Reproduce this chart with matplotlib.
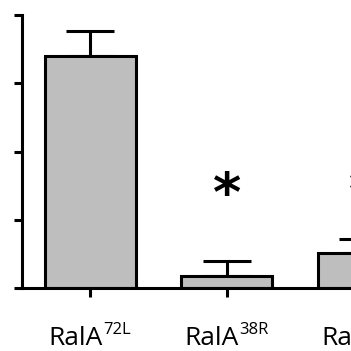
import numpy as np
import matplotlib.pyplot as plt
import matplotlib.transforms as mtransforms

plt.rcParams['font.family'] = 'Open Sans'

names = ['RalA', 'RalA', 'RalA']
mutants = ['72L', '38R', '48W']
values = [3.40, 0.18, 0.51]
errors = [0.37, 0.22, 0.21]
stars = ['', '*', '*']
star_y = [0, 1.35, 1.37]

x = np.arange(len(values))

fig = plt.figure(figsize=(3.51, 3.51), dpi=100)
ax = fig.add_axes([22 / 351, 63 / 351, 409.5 / 351, 273 / 351])

ax.bar(x, values, width=0.667, color='#bebebe', edgecolor='black', linewidth=2.2, zorder=2)
ax.errorbar(x, values, yerr=[np.zeros(len(errors)), errors], fmt='none',
            ecolor='black', elinewidth=2.2, capsize=17, capthick=2.2, zorder=1)

for xi, sy, s in zip(x, star_y, stars):
    if s:
        ax.text(xi, sy, s, ha='center', va='center', fontsize=39,
                fontweight='bold', family='DejaVu Sans')

# category labels with small superscripts
trans = ax.get_xaxis_transform()
main_tr = mtransforms.offset_copy(trans, fig=fig, x=12, y=-57, units='dots')
sup_tr = mtransforms.offset_copy(trans, fig=fig, x=13, y=-46, units='dots')
for xi, n, m in zip(x, names, mutants):
    ax.text(xi, 0, n, transform=main_tr, ha='right', va='baseline', fontsize=19)
    ax.text(xi, 0, m, transform=sup_tr, ha='left', va='baseline', fontsize=12)

ax.set_xlim(-0.5, 2.5)
ax.set_ylim(0, 4)
ax.set_yticks([0, 1, 2, 3, 4])
ax.set_yticklabels([])
ax.set_xticks(x)
ax.set_xticklabels([])

for side in ['top', 'right']:
    ax.spines[side].set_visible(False)
for side in ['left', 'bottom']:
    ax.spines[side].set_linewidth(2.2)

ax.tick_params(axis='y', length=6, width=2.2)
ax.tick_params(axis='x', length=6.5, width=2.2)

plt.savefig('out.png', dpi=100)
